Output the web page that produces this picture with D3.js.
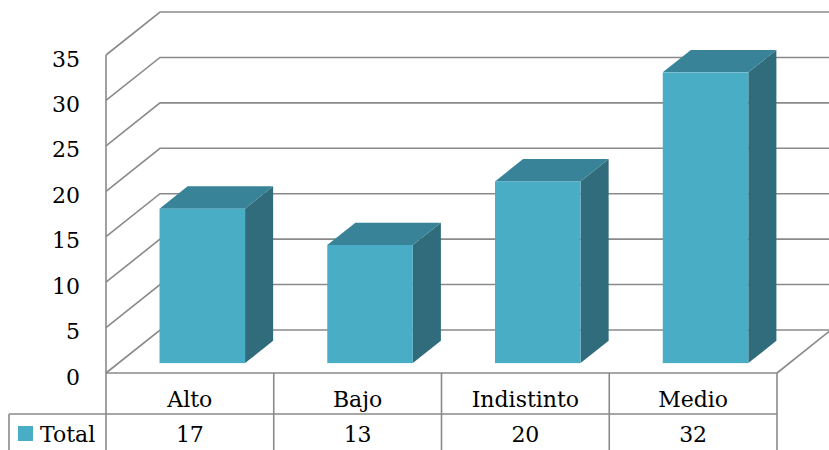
<!DOCTYPE html>
<html>
<head>
<meta charset="utf-8">
<script src="https://cdn.jsdelivr.net/npm/d3@7/dist/d3.min.js"></script>
<style>
  html, body { margin: 0; padding: 0; background: #ffffff; }
  svg { display: block; }
  text { font-family: "DejaVu Serif", serif; fill: #000; }
</style>
</head>
<body>
<svg id="chart" width="829" height="450"></svg>
<script>
// Data
const categories = ["Alto", "Bajo", "Indistinto", "Medio"];
const seriesName = "Total";
const values = [17, 13, 20, 32];
const yTicks = [0, 5, 10, 15, 20, 25, 30, 35];

// Colours
const frontColor = "#4aadc6";
const topColor = "#388397";
const sideColor = "#306c7b";
const gridColor = "#8a8a8a";

const svg = d3.select("#chart");
const W = 829;

// Front plane of the plot box and the 3D depth vector
const x = d3.scaleBand().domain(categories).range([106, 777]).padding(0);
const y = d3.scaleLinear().domain([0, 35]).range([373, 55]);
const depth = { dx: 54, dy: -43 };

// Bar placement within the depth and within each column
const barFront = 0.23, barBack = 0.75;   // fractions of the depth
const barWidthFrac = 0.51;               // fraction of the column width

const grid = svg.append("g");

// Back-wall gridlines with their diagonal run across the left wall
yTicks.forEach(v => {
  const y0 = y(v);
  grid.append("path")
    .attr("d", `M${x.range()[0]},${y0} L${x.range()[0] + depth.dx},${y0 + depth.dy} L${W + 10},${y0 + depth.dy}`)
    .attr("fill", "none").attr("stroke", gridColor).attr("stroke-width", 1.6);
});

// Left wall front edge
grid.append("line")
  .attr("x1", x.range()[0]).attr("x2", x.range()[0])
  .attr("y1", y(35)).attr("y2", y(0))
  .attr("stroke", gridColor).attr("stroke-width", 1.6);

// Floor right edge
grid.append("line")
  .attr("x1", x.range()[1]).attr("y1", y(0))
  .attr("x2", x.range()[1] + depth.dx).attr("y2", y(0) + depth.dy)
  .attr("stroke", gridColor).attr("stroke-width", 1.6);

// Y tick labels
svg.append("g").selectAll("text").data(yTicks).join("text")
  .attr("x", 80).attr("y", d => y(d) + 4)
  .attr("text-anchor", "end").attr("dominant-baseline", "central")
  .attr("font-size", 22)
  .text(d => d);

// Bars as 3D prisms
const bars = svg.append("g");
categories.forEach((c, i) => {
  const bw = x.bandwidth() * barWidthFrac;
  const left = x(c) + (x.bandwidth() - bw) / 2 + barFront * depth.dx;
  const right = left + bw;
  const bottom = y(0) + barFront * depth.dy;
  const top = y(values[i]) + barFront * depth.dy;
  const ddx = (barBack - barFront) * depth.dx;
  const ddy = (barBack - barFront) * depth.dy;
  const g = bars.append("g");
  // side face
  g.append("path")
    .attr("d", `M${right},${bottom} L${right + ddx},${bottom + ddy} L${right + ddx},${top + ddy} L${right},${top} Z`)
    .attr("fill", sideColor);
  // top face
  g.append("path")
    .attr("d", `M${left},${top} L${left + ddx},${top + ddy} L${right + ddx},${top + ddy} L${right},${top} Z`)
    .attr("fill", topColor);
  // front face
  g.append("rect")
    .attr("x", left).attr("y", top)
    .attr("width", bw).attr("height", bottom - top)
    .attr("fill", frontColor);
});

// Data table under the plot
const table = svg.append("g");
const row1Top = y(0), row2Top = 414, tableBottom = 452;
const tableLine = (x1, y1, x2, y2) => table.append("line")
  .attr("x1", x1).attr("y1", y1).attr("x2", x2).attr("y2", y2)
  .attr("stroke", gridColor).attr("stroke-width", 1.6);

tableLine(x.range()[0], row1Top, x.range()[1], row1Top);
tableLine(9, row2Top, x.range()[1], row2Top);
tableLine(9, row2Top, 9, tableBottom);
categories.forEach(c => tableLine(x(c), row1Top, x(c), tableBottom));
tableLine(x.range()[1], row1Top, x.range()[1], tableBottom);

table.selectAll("text.cat").data(categories).join("text")
  .attr("class", "cat")
  .attr("x", d => x(d) + x.bandwidth() / 2).attr("y", 407)
  .attr("text-anchor", "middle").attr("font-size", 22)
  .text(d => d);

table.selectAll("text.val").data(values).join("text")
  .attr("class", "val")
  .attr("x", (d, i) => x(categories[i]) + x.bandwidth() / 2).attr("y", 442)
  .attr("text-anchor", "middle").attr("font-size", 22)
  .text(d => d);

// Legend key in the series row
table.append("rect")
  .attr("x", 18).attr("y", 426).attr("width", 15).attr("height", 15)
  .attr("fill", frontColor);
table.append("text")
  .attr("x", 40).attr("y", 442).attr("font-size", 22)
  .text(seriesName);
</script>
</body>
</html>
